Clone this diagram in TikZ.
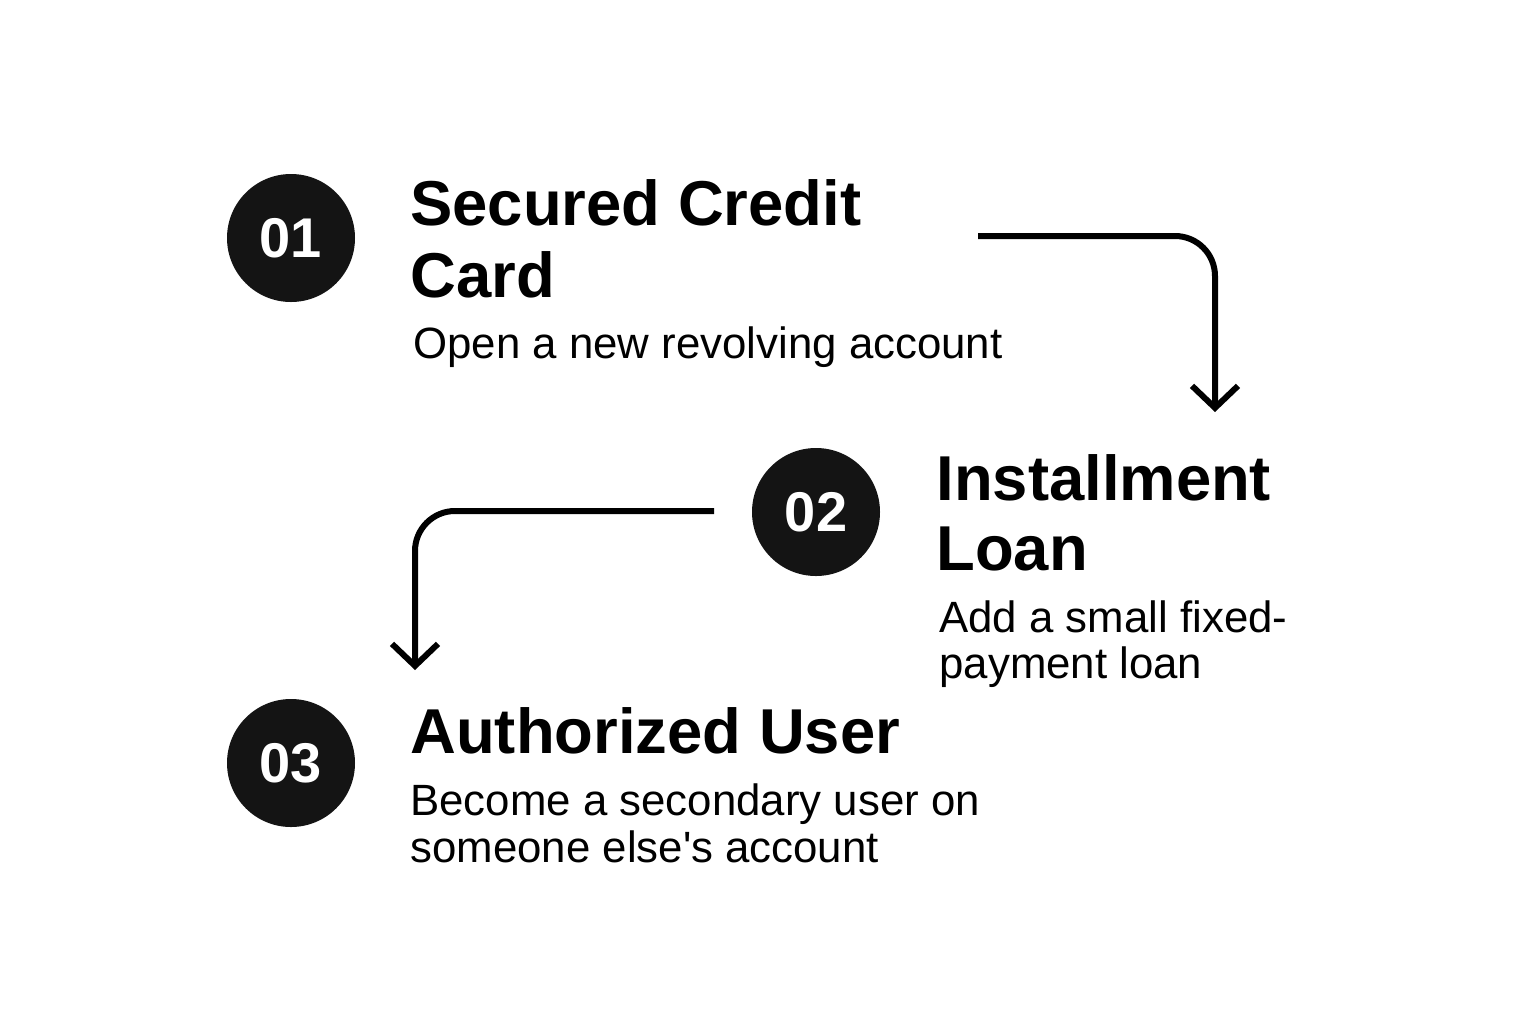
\documentclass[tikz,border=0pt]{standalone}
\usepackage{fontspec}
\setmainfont{Liberation Sans}
\usetikzlibrary{arrows.meta}
\begin{document}
\begin{tikzpicture}[x=0.5pt,y=-0.5pt,
  numcircle/.style={circle,fill=black!92,minimum size=64pt,inner sep=0pt,text=white,font=\bfseries\fontsize{28}{28}\selectfont},
  titletext/.style={anchor=base west,inner sep=0pt,font=\bfseries\fontsize{31.7}{36}\selectfont},
  desctext/.style={anchor=base west,inner sep=0pt,font=\fontsize{21.9}{24}\selectfont},
  flow/.style={line width=3pt,rounded corners=20pt,-{Straight Barb[length=11pt,width=23pt,line width=3pt]}}]
\fill[white] (0,0) rectangle (1536,1024);
\useasboundingbox (0,0) rectangle (1536,1024);
\node[numcircle] (c1) at (291,238) {01};
\node[numcircle] (c2) at (816,512) {02};
\node[numcircle] (c3) at (291,763) {03};
\node[titletext] (t1a) at (410,225) {Secured Credit};
\node[titletext] (t1b) at (410,297) {Card};
\node[desctext] (d1) at (413,358) {Open a new revolving account};
\node[titletext] (t2a) at (936,500) {Installment};
\node[titletext] (t2b) at (936,570) {Loan};
\node[desctext] (d2a) at (939,632) {Add a small fixed-};
\node[desctext] (d2b) at (939,678) {payment loan};
\node[titletext] (t3) at (410,753) {Authorized User};
\node[desctext] (d3a) at (410,815) {Become a secondary user on};
\node[desctext] (d3b) at (410,862) {someone else\textquotesingle s account};
\coordinate (a1s) at (978,236);
\coordinate (a1c) at (1215,236);
\coordinate (a1e) at (1215,412);
\coordinate (a2s) at (714,511);
\coordinate (a2c) at (415,511);
\coordinate (a2e) at (415,670);
\draw[flow] (a1s) -- (a1c) -- (a1e);
\draw[flow] (a2s) -- (a2c) -- (a2e);
\end{tikzpicture}
\end{document}
